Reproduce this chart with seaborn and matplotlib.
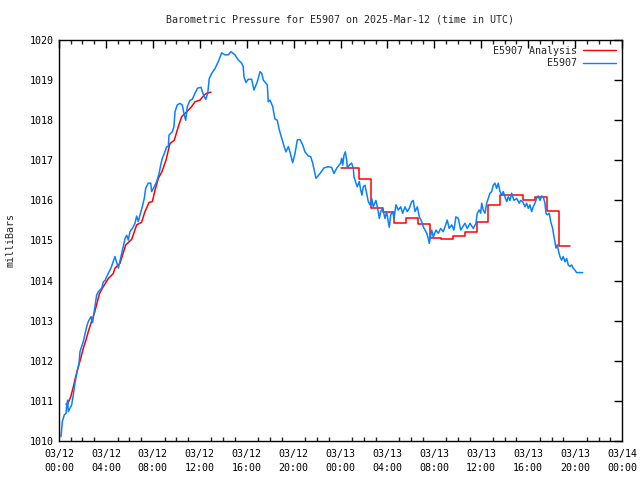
import matplotlib
matplotlib.use("Agg")
import matplotlib.pyplot as plt
import seaborn as sns
import pandas as pd
import numpy as np
from matplotlib.ticker import MultipleLocator, FixedLocator
from matplotlib.lines import Line2D

# ---------------- data (hours since 2025-03-12 00:00 UTC, millibars) ----------------
obs_hours = [0.17, 0.21, 0.28, 0.45, 0.60, 0.66, 0.74, 0.79, 1.08, 1.22, 1.36, 1.51, 1.71, 1.79,
             2.07, 2.36, 2.50, 2.73, 2.86, 3.21, 3.35, 3.64, 3.78, 3.92, 4.20, 4.43, 4.77, 5.06,
             5.29, 5.48, 5.63, 5.77, 5.91, 6.05, 6.25, 6.48, 6.62, 6.76, 6.91, 7.10, 7.27, 7.39,
             7.61, 7.82, 7.90, 8.12, 8.33, 8.53, 8.70, 8.81, 8.98, 9.18, 9.32, 9.38, 9.66, 9.80,
             9.89, 10.08, 10.31, 10.51, 10.68, 10.80, 10.94, 11.17, 11.36, 11.59, 11.82, 12.11,
             12.22, 12.39, 12.51, 12.68, 12.81, 13.02, 13.30, 13.58, 13.87, 14.15, 14.43, 14.66,
             15.00, 15.29, 15.58, 15.71, 15.77, 15.94, 16.14, 16.43, 16.62, 16.91, 17.14, 17.28,
             17.42, 17.76, 17.84, 17.99, 18.22, 18.41, 18.61, 18.78, 18.99, 19.18, 19.35, 19.55,
             19.69, 19.92, 20.12, 20.32, 20.55, 20.78, 20.97, 21.25, 21.46, 21.63, 21.91, 22.25,
             22.59, 22.96, 23.25, 23.44, 23.67, 24.01, 24.10, 24.19, 24.30, 24.41, 24.53, 24.58,
             24.75, 24.95, 25.09, 25.15, 25.32, 25.43, 25.60, 25.72, 25.83, 25.94, 26.09, 26.23,
             26.37, 26.51, 26.66, 26.79, 27.02, 27.17, 27.31, 27.43, 27.60, 27.79, 27.94, 28.07,
             28.16, 28.28, 28.45, 28.56, 28.73, 28.93, 29.13, 29.30, 29.50, 29.69, 29.86, 30.07,
             30.20, 30.35, 30.55, 30.72, 30.92, 31.06, 31.20, 31.35, 31.48, 31.57, 31.77, 31.91,
             32.14, 32.34, 32.54, 32.76, 32.91, 33.10, 33.27, 33.48, 33.67, 33.84, 34.04, 34.25,
             34.42, 34.61, 34.81, 35.04, 35.32, 35.55, 35.66, 35.83, 35.95, 36.04, 36.17, 36.32,
             36.46, 36.60, 36.74, 36.89, 37.02, 37.17, 37.31, 37.45, 37.60, 37.74, 37.88, 38.02,
             38.17, 38.30, 38.45, 38.59, 38.79, 39.02, 39.24, 39.36, 39.53, 39.73, 39.87, 40.01,
             40.15, 40.30, 40.43, 40.58, 40.72, 40.86, 41.01, 41.15, 41.29, 41.43, 41.52, 41.63,
             41.80, 41.92, 42.09, 42.20, 42.28, 42.37, 42.48, 42.60, 42.71, 42.85, 42.99, 43.14,
             43.28, 43.42, 43.56, 43.71, 43.84, 43.99, 44.13, 44.65]
obs_mb = [1010.11, 1010.23, 1010.48, 1010.65, 1010.69, 1010.90, 1011.02, 1010.73, 1010.90, 1011.15,
          1011.44, 1011.69, 1011.95, 1012.23, 1012.48, 1012.85, 1012.98, 1013.10, 1012.95, 1013.64,
          1013.72, 1013.81, 1013.97, 1014.00, 1014.18, 1014.31, 1014.60, 1014.31, 1014.60, 1014.85,
          1015.05, 1015.13, 1015.01, 1015.22, 1015.30, 1015.43, 1015.61, 1015.47, 1015.64, 1015.84,
          1016.05, 1016.30, 1016.43, 1016.43, 1016.22, 1016.34, 1016.47, 1016.67, 1016.92, 1017.05,
          1017.17, 1017.34, 1017.34, 1017.63, 1017.71, 1017.84, 1018.21, 1018.38, 1018.42, 1018.38,
          1018.13, 1018.00, 1018.34, 1018.50, 1018.52, 1018.67, 1018.80, 1018.82, 1018.71, 1018.59,
          1018.52, 1018.67, 1019.04, 1019.17, 1019.29, 1019.46, 1019.68, 1019.63, 1019.63, 1019.71,
          1019.63, 1019.50, 1019.42, 1019.33, 1019.08, 1018.94, 1019.02, 1019.02, 1018.75, 1018.96,
          1019.21, 1019.17, 1019.00, 1018.88, 1018.46, 1018.50, 1018.34, 1018.03, 1018.00, 1017.76,
          1017.55, 1017.36, 1017.21, 1017.34, 1017.21, 1016.94, 1017.17, 1017.51, 1017.52, 1017.38,
          1017.21, 1017.11, 1017.09, 1016.93, 1016.55, 1016.67, 1016.81, 1016.84, 1016.82, 1016.67,
          1016.80, 1016.93, 1017.05, 1016.88, 1017.13, 1017.21, 1017.00, 1016.80, 1016.88, 1016.93,
          1016.80, 1016.59, 1016.43, 1016.34, 1016.47, 1016.26, 1016.13, 1016.34, 1016.38, 1016.18,
          1015.97, 1015.89, 1016.05, 1015.84, 1016.00, 1015.80, 1015.55, 1015.72, 1015.80, 1015.55,
          1015.72, 1015.47, 1015.33, 1015.64, 1015.72, 1015.55, 1015.89, 1015.76, 1015.84, 1015.68,
          1015.84, 1015.72, 1015.80, 1015.97, 1016.00, 1015.72, 1015.84, 1015.59, 1015.47, 1015.34,
          1015.26, 1015.18, 1015.05, 1014.93, 1015.26, 1015.09, 1015.26, 1015.18, 1015.30, 1015.22,
          1015.34, 1015.51, 1015.30, 1015.39, 1015.26, 1015.59, 1015.55, 1015.26, 1015.34, 1015.43,
          1015.30, 1015.43, 1015.30, 1015.43, 1015.68, 1015.76, 1015.68, 1015.93, 1015.76, 1015.68,
          1015.93, 1016.05, 1016.18, 1016.22, 1016.38, 1016.43, 1016.30, 1016.43, 1016.22, 1016.13,
          1016.22, 1016.09, 1015.97, 1016.09, 1016.00, 1016.18, 1016.00, 1016.05, 1015.93, 1016.00,
          1015.97, 1015.84, 1015.93, 1015.80, 1015.89, 1015.72, 1015.84, 1015.93, 1016.05, 1016.11,
          1016.00, 1016.11, 1016.09, 1015.93, 1015.68, 1015.64, 1015.68, 1015.47, 1015.30, 1015.09,
          1014.97, 1014.81, 1014.89, 1014.72, 1014.60, 1014.51, 1014.60, 1014.47, 1014.55, 1014.39,
          1014.35, 1014.39, 1014.31, 1014.26, 1014.20, 1014.20]

# analysis, first segment (line)
ana1_hours = [0.60, 0.74, 1.00, 1.22, 1.42, 1.65, 1.88, 2.07, 2.28, 2.50, 2.73, 3.01, 3.27, 3.44,
              3.78, 4.20, 4.63, 4.77, 5.20, 5.69, 6.20, 6.62, 7.03, 7.33, 7.68, 7.96, 8.19, 8.47,
              8.78, 9.12, 9.46, 9.83, 10.17, 10.46, 10.89, 11.31, 11.59, 12.02, 12.39, 12.59, 12.96]
ana1_mb = [1010.92, 1010.92, 1011.10, 1011.35, 1011.60, 1011.85, 1012.09, 1012.31, 1012.50, 1012.73,
           1012.94, 1013.18, 1013.47, 1013.67, 1013.85, 1014.05, 1014.18, 1014.31, 1014.43, 1014.89,
           1015.03, 1015.39, 1015.45, 1015.72, 1015.95, 1015.97, 1016.26, 1016.55, 1016.72, 1017.00,
           1017.42, 1017.50, 1017.84, 1018.09, 1018.21, 1018.34, 1018.46, 1018.50, 1018.63, 1018.67,
           1018.70]
# analysis, second segment (hourly steps)
ana2_hours = [24.0, 24.6, 25.6, 26.6, 27.6, 28.6, 29.6, 30.6, 31.6, 32.6, 33.6, 34.6, 35.6, 36.6,
              37.6, 38.6, 39.6, 40.6, 41.6, 42.6, 43.6]
ana2_mb = [1016.80, 1016.80, 1016.53, 1015.81, 1015.70, 1015.44, 1015.56, 1015.41, 1015.06, 1015.04,
           1015.11, 1015.21, 1015.46, 1015.88, 1016.13, 1016.13, 1016.00, 1016.08, 1015.74, 1014.87,
           1014.87]

tick_hours = [0, 4, 8, 12, 16, 20, 24, 28, 32, 36, 40, 44, 48]
tick_labels = ["03/12\n00:00", "03/12\n04:00", "03/12\n08:00", "03/12\n12:00", "03/12\n16:00",
               "03/12\n20:00", "03/13\n00:00", "03/13\n04:00", "03/13\n08:00", "03/13\n12:00",
               "03/13\n16:00", "03/13\n20:00", "03/14\n00:00"]
y_ticks = [1010, 1011, 1012, 1013, 1014, 1015, 1016, 1017, 1018, 1019, 1020]

title = "Barometric Pressure for E5907 on 2025-Mar-12 (time in UTC)"
series_labels = ["E5907 Analysis", "E5907"]

# ---------------- plot ----------------
sns.set_style("white")
plt.rcParams["font.family"] = ["DejaVu Sans Mono"]
plt.rcParams["font.size"] = 7.2

RED = "#ff0000"
BLUE = "#0a80ff"
LW = 1.1

fig = plt.figure(figsize=(6.4, 4.8), dpi=100)
ax = fig.add_axes([59 / 640, 1 - 441 / 480, 563 / 640, 401 / 480])

df_obs = pd.DataFrame({"hour": obs_hours, "mb": obs_mb})
df_a1 = pd.DataFrame({"hour": ana1_hours, "mb": ana1_mb})
df_a2 = pd.DataFrame({"hour": ana2_hours, "mb": ana2_mb})

sns.lineplot(data=df_a1, x="hour", y="mb", ax=ax, color=RED, lw=LW, sort=False,
             estimator=None)
sns.lineplot(data=df_a2, x="hour", y="mb", ax=ax, color=RED, lw=LW, sort=False,
             estimator=None, drawstyle="steps-post")
sns.lineplot(data=df_obs, x="hour", y="mb", ax=ax, color=BLUE, lw=LW, sort=False,
             estimator=None)

ax.set_xlim(0, 48)
ax.set_ylim(1010, 1020)
ax.xaxis.set_major_locator(FixedLocator(tick_hours))
ax.set_xticklabels(tick_labels, linespacing=1.5)
ax.xaxis.set_minor_locator(MultipleLocator(1))
ax.yaxis.set_major_locator(FixedLocator(y_ticks))
ax.set_yticklabels([str(v) for v in y_ticks])

ax.tick_params(axis="both", which="major", direction="in", length=6, width=1,
               top=True, right=True, labelsize=7.2, colors="black")
ax.tick_params(axis="x", which="minor", direction="in", length=3, width=1, top=True, bottom=True)
ax.tick_params(axis="x", which="major", pad=6)
ax.tick_params(axis="y", which="major", pad=4)

for s in ax.spines.values():
    s.set_color("black")
    s.set_linewidth(1.0)

ax.set_xlabel("")
ax.set_ylabel("milliBars", fontsize=7.2, labelpad=10)
fig.text(340.5 / 640, 1 - 20 / 480, title, ha="center", va="center", fontsize=7.2)

handles = [Line2D([], [], color=RED, lw=1.0), Line2D([], [], color=BLUE, lw=1.0)]
leg = ax.legend(handles, series_labels, loc="upper right", frameon=False, markerfirst=False,
                fontsize=7.2, handlelength=3.3, handletextpad=0.6, labelspacing=0.25,
                borderaxespad=0.2, bbox_to_anchor=(1.0, 1.0))
for t in leg.get_texts():
    t.set_ha("right")

fig.savefig("out.png", dpi=100, facecolor="white")
